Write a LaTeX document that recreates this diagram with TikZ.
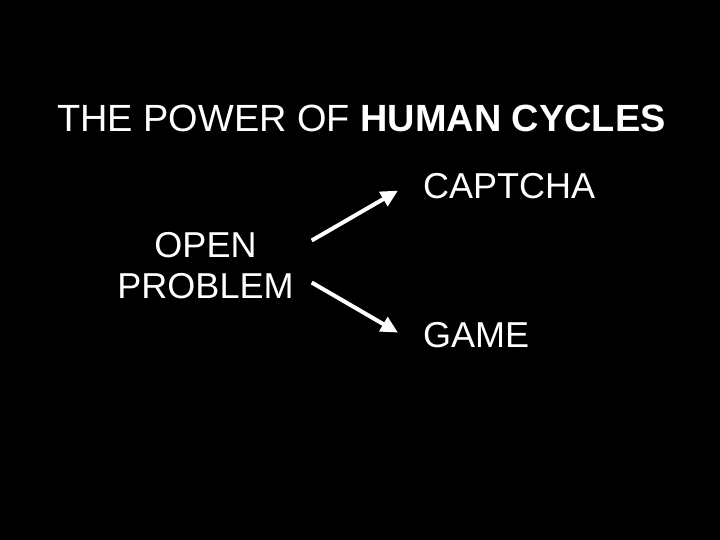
\documentclass[tikz,border=0pt]{standalone}
\usepackage{fontspec}
\setmainfont{Liberation Sans}
\usetikzlibrary{arrows.meta,calc}

\begin{document}
\begin{tikzpicture}[x=1pt,y=-1pt,
  txt/.style={font=\fontsize{36}{41}\selectfont,text=white,inner sep=0pt},
  head/.style={font=\fontsize{37.9}{46}\selectfont,text=white,inner sep=0pt},
  arr/.style={draw=white,line width=4pt,-{Triangle[length=17pt,width=16pt]}},
]

% background
\fill[black] (0,0) rectangle (720,540);

% title line
\node[head,anchor=base west] (title) at (57,132) {THE POWER OF \textbf{HUMAN CYCLES}};

% problem and its two outcomes
\node[txt,align=center] (open) at (205.5,265.5) {OPEN\\PROBLEM};
\node[txt,anchor=base west] (captcha) at (423,199) {CAPTCHA};
\node[txt,anchor=base west] (game) at (423,347) {GAME};

\draw[arr] ($(open.east)+(18,-25)$) -- ($(captcha.west)+(-25,4)$);
\draw[arr] ($(open.east)+(18,17)$) -- ($(game.west)+(-25,-2)$);

\end{tikzpicture}
\end{document}
